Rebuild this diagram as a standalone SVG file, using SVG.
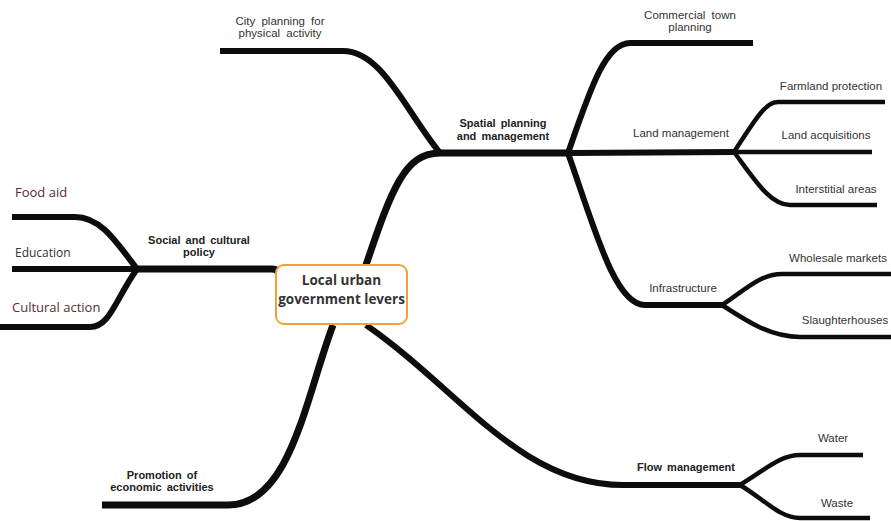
<svg xmlns="http://www.w3.org/2000/svg" width="891" height="521" viewBox="0 0 891 521">
<style>
.c{fill:none;stroke:#0d0d0d;stroke-linecap:butt;stroke-linejoin:round}
.w1{stroke-width:7}
.w2{stroke-width:6}
.w3{stroke-width:4.5}
.t{font-family:"Liberation Sans",Arial,sans-serif;font-size:11.5px;fill:#333;text-anchor:middle}
.ws{word-spacing:3px}
.b{font-weight:bold;font-size:11px;fill:#222;word-spacing:2px}
.h{font-family:"Open Sans","Noto Sans",sans-serif;font-size:13px;fill:#333}
.br{fill:#5a2a30}
.ctr{font-family:"Open Sans","Noto Sans",sans-serif;font-weight:bold;font-size:13.5px;fill:#333;text-anchor:middle}
</style>
<rect width="891" height="521" fill="#fff"/>
<g id="connectors">
<path class="c w1" d="M137 269 L272 269 Q278 269 280 275"/>
<path class="c w2" d="M137 269 C115 240 100 217 75 217 L12 217"/>
<path class="c w2" d="M137 269 L12 269"/>
<path class="c w2" d="M137 269 C115 300 110 327 90 327 L0 327"/>
<path class="c w1" d="M366 265 C392 188 405 153 440 153 L568 153"/>
<path class="c w2" d="M440 153 C405 110 382 51 343 51 L220 51"/>
<path class="c w2" d="M568 153 C590 90 605 43 630 43 L753 43"/>
<path class="c w2" d="M568 153 L734 152"/>
<path class="c w3" d="M734 152 C755 120 765 102 778 102 L885 102"/>
<path class="c w3" d="M734 152 L872 152"/>
<path class="c w3" d="M734 152 C755 180 770 205 790 205 L877 205"/>
<path class="c w2" d="M568 153 C595 230 615 305 645 305 L722 305"/>
<path class="c w3" d="M722 305 C745 290 760 274 782 274 L891 274"/>
<path class="c w3" d="M722 305 C745 320 770 337 800 337 L891 337"/>
<path class="c w1" d="M333 325 C305 400 290 505 228 505 L102 505"/>
<path class="c w2" d="M366 325 C460 390 520 485 623 485 L740 485"/>
<path class="c w3" d="M740 485 C765 470 780 455 800 455 L863 455"/>
<path class="c w3" d="M740 485 C765 500 780 518 800 518 L870 518"/>
</g>
<g id="center">
<rect x="276" y="265" width="131" height="59" rx="8" fill="#fff" stroke="#f0a23a" stroke-width="2"/>
<text class="ctr" x="341.5" y="285">Local urban</text>
<text class="ctr" x="341.5" y="304">government levers</text>
</g>
<g id="social"><text class="t b" x="199" y="244">Social and cultural</text><text class="t b" x="199" y="256">policy</text></g>
<g id="food-aid"><text class="h br" x="15" y="197">Food aid</text></g>
<g id="education"><text class="h" x="15" y="257" style="font-size:12px">Education</text></g>
<g id="cultural-action"><text class="h br" x="12" y="312">Cultural action</text></g>
<g id="spatial"><text class="t b" x="503" y="127">Spatial planning</text><text class="t b" x="503" y="140">and management</text></g>
<g id="city-planning"><text class="t ws" x="280" y="25">City planning for</text><text class="t ws" x="280" y="37">physical activity</text></g>
<g id="commercial"><text class="t ws" x="690" y="19">Commercial town</text><text class="t" x="690" y="31">planning</text></g>
<g id="land-management"><text class="t" x="681" y="137">Land management</text></g>
<g id="farmland"><text class="t" x="831" y="90">Farmland protection</text></g>
<g id="land-acquisitions"><text class="t" x="826" y="139">Land acquisitions</text></g>
<g id="interstitial"><text class="t" x="836" y="193">Interstitial areas</text></g>
<g id="infrastructure"><text class="t" x="683" y="292">Infrastructure</text></g>
<g id="wholesale"><text class="t" x="838" y="262">Wholesale markets</text></g>
<g id="slaughterhouses"><text class="t" x="845" y="324">Slaughterhouses</text></g>
<g id="promotion"><text class="t b" x="162" y="479">Promotion of</text><text class="t b" x="162" y="491">economic activities</text></g>
<g id="flow"><text class="t b" x="686" y="471">Flow management</text></g>
<g id="water"><text class="t" x="833" y="442">Water</text></g>
<g id="waste"><text class="t" x="837" y="507">Waste</text></g>
</svg>
